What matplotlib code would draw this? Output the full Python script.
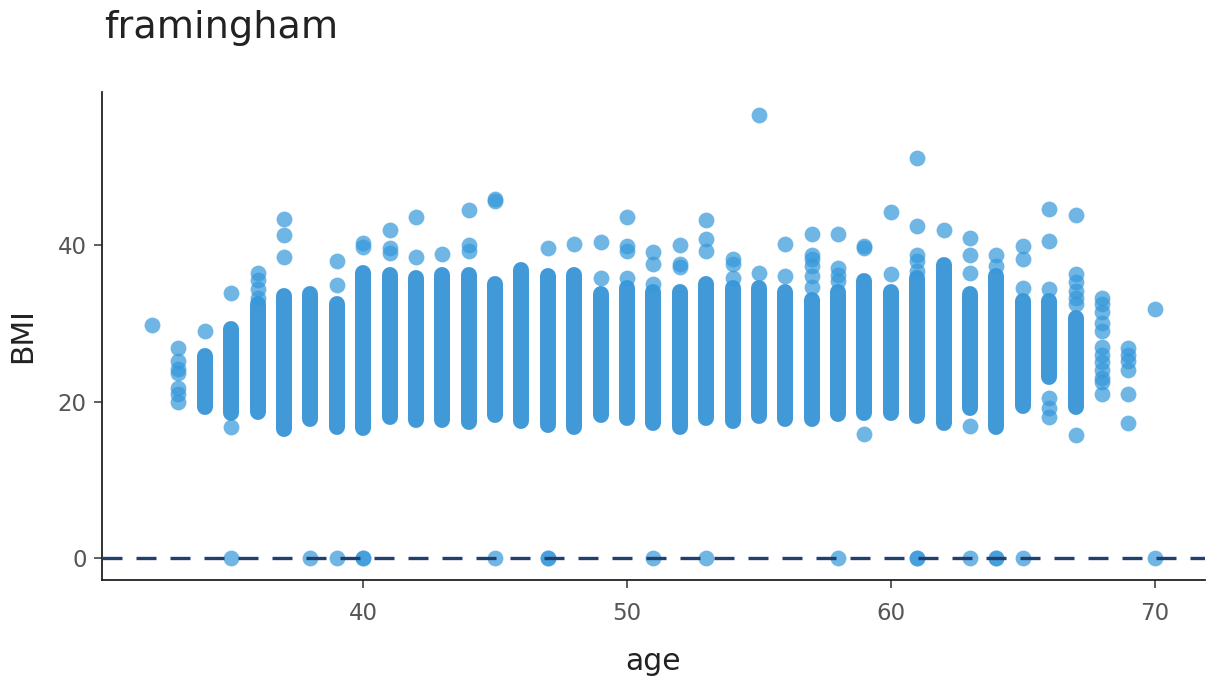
import numpy as np
import matplotlib
matplotlib.use("Agg")
import matplotlib.pyplot as plt

# dense columns of BMI per age: (age, lowest, highest)
dense_age = [34, 35, 36, 37, 38, 39, 40, 41, 42, 43, 44, 45, 46, 47, 48, 49, 50,
             51, 52, 53, 54, 55, 56, 57, 58, 59, 60, 61, 62, 63, 64, 65, 66, 67]
dense_low = [19.3, 18.5, 18.6, 16.5, 17.8, 16.8, 16.6, 18.0, 17.6, 17.6, 17.4, 18.3,
             17.5, 17.0, 16.8, 18.3, 17.9, 17.2, 16.8, 17.9, 17.5, 18.1, 17.8, 17.8,
             18.4, 18.5, 18.5, 18.1, 17.3, 19.2, 16.8, 19.4, 23.1, 19.3]
dense_high = [25.8, 29.3, 32.5, 33.5, 33.8, 32.5, 36.5, 36.2, 35.8, 36.2, 36.2, 35.0,
              36.8, 36.0, 36.2, 33.8, 34.5, 34.0, 34.0, 35.0, 34.5, 34.5, 34.0, 33.0,
              34.0, 35.4, 34.0, 35.8, 37.5, 33.8, 36.0, 32.8, 32.8, 30.7]

# separate points outside the dense columns
pt_age = ([32] + [33] * 7 + [34] + [35] * 2 + [36] * 4 + [37] * 3 + [39] * 2
          + [40] * 2 + [41] * 3 + [42] * 2 + [43] + [44] * 3 + [45] * 2 + [47]
          + [48] + [49] * 2 + [50] * 4 + [51] * 3 + [52] * 3 + [53] * 3 + [54] * 3
          + [55] * 2 + [56] * 2 + [57] * 6 + [58] * 4 + [59] * 3 + [60] * 2
          + [61] * 5 + [62] + [63] * 4 + [64] * 2 + [65] * 3 + [66] * 6 + [67] * 7
          + [68] * 12 + [69] * 6 + [70])
pt_bmi = ([29.8]
          + [26.8, 25.2, 24.2, 23.6, 21.7, 21.0, 19.9]
          + [29.0]
          + [33.9, 16.8]
          + [36.4, 35.5, 34.4, 33.2]
          + [43.3, 41.3, 38.5]
          + [38.0, 34.9]
          + [40.3, 39.8]
          + [42.0, 39.6, 39.0]
          + [43.6, 38.5]
          + [38.9]
          + [44.5, 40.0, 39.3]
          + [45.7, 45.9]
          + [39.6]
          + [40.1]
          + [40.4, 35.8]
          + [43.6, 39.9, 39.3, 35.8]
          + [39.1, 37.6, 35.0]
          + [40.0, 37.2, 37.6]
          + [43.2, 40.8, 39.3]
          + [38.3, 37.6, 35.8]
          + [56.7, 36.4]
          + [40.1, 36.0]
          + [41.4, 38.8, 38.2, 37.3, 36.0, 34.6]
          + [41.4, 37.1, 36.2, 35.4]
          + [39.7, 39.9, 15.9]
          + [44.3, 36.3]
          + [51.2, 42.4, 38.8, 38.0, 36.7]
          + [42.0]
          + [40.9, 38.8, 36.4, 16.9]
          + [38.8, 37.3]
          + [39.9, 38.2, 34.5]
          + [44.6, 40.5, 34.4, 20.5, 19.2, 18.0]
          + [43.9, 36.3, 35.3, 34.2, 33.2, 32.5, 15.7]
          + [33.2, 32.5, 31.5, 30.0, 29.0, 27.0, 26.0, 25.0, 24.0, 23.0, 22.5, 21.0]
          + [26.8, 26.0, 25.2, 24.0, 21.0, 17.2]
          + [31.8])

# records with BMI coded as 0
zero_age = [35, 38, 39, 40, 40, 45, 47, 47, 51, 53, 58, 61, 61, 63, 64, 64, 65, 70]
zero_bmi = [0] * len(zero_age)

blue = "#3498db"

fig = plt.figure(figsize=(12.08, 6.82), dpi=100)
ax = fig.add_axes([0.0844, 0.1496, 0.913, 0.7154])

ax.vlines(dense_age, dense_low, dense_high, colors="#4299d8", linewidth=11.5,
          capstyle="round", zorder=2)
ax.scatter(pt_age, pt_bmi, s=130, color=blue, alpha=0.7, linewidths=0, zorder=3)
ax.scatter(zero_age, zero_bmi, s=130, color=blue, alpha=0.7, linewidths=0, zorder=3)
ax.axhline(0, color="#22406e", linewidth=2.4, dashes=(6.0, 4.2), zorder=4)

ax.set_xlim(30.1, 71.9)
ax.set_ylim(-2.84, 59.6)
ax.set_xticks([40, 50, 60, 70])
ax.set_yticks([0, 20, 40])

for s in ["top", "right"]:
    ax.spines[s].set_visible(False)
for s in ["left", "bottom"]:
    ax.spines[s].set_linewidth(1.3)
    ax.spines[s].set_color("#222222")
ax.tick_params(length=6, width=1.1, color="#333333", labelcolor="#555555",
               labelsize=16.5)
ax.tick_params(axis="x", pad=10)
ax.tick_params(axis="y", pad=5)

ax.set_xlabel("age", fontsize=21.5, color="#222222", labelpad=16)
ax.set_ylabel("BMI", fontsize=21.5, color="#222222", labelpad=15)
fig.text(104, 682 - 38, "framingham", fontsize=27.5, color="#222222",
         ha="left", va="baseline", transform=None)

fig.savefig("out.png", dpi=100)
